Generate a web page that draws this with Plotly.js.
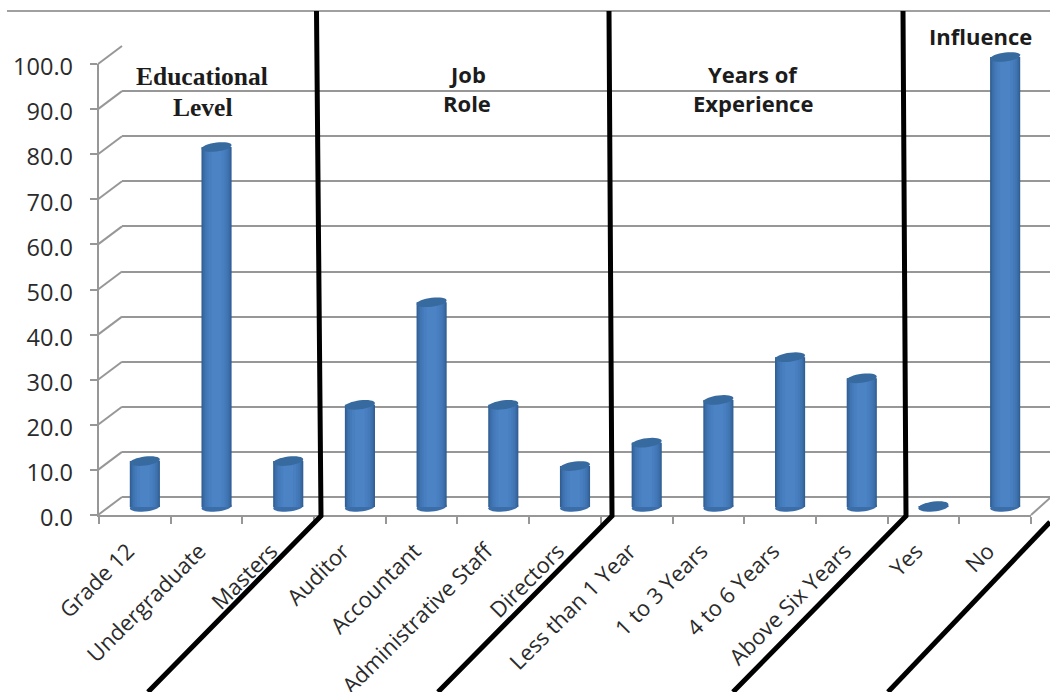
<!DOCTYPE html>
<html>
<head>
<meta charset="utf-8">
<script src="https://cdn.plot.ly/plotly-3.0.1.min.js"></script>
<style>html,body{margin:0;padding:0;background:#fff}#chart{width:1050px;height:692px}</style>
</head>
<body>
<div id="chart"></div>
<script>
const categories = ["Grade 12","Undergraduate","Masters","Auditor","Accountant","Administrative Staff","Directors","Less than 1 Year","1 to 3 Years","4 to 6 Years","Above Six Years","Yes","No"];
const percentages = [10.2,80,10.2,22.7,45.5,22.7,9.1,14.3,23.8,33.3,28.6,0.2,100];
const yTicks = [0,10,20,30,40,50,60,70,80,90,100];
const yTickLabels = ["0.0","10.0","20.0","30.0","40.0","50.0","60.0","70.0","80.0","90.0","100.0"];

const W = 1050, H = 692;
const px = x => x / W, py = y => 1 - y / H;
const GRAY = "#979797";
const layers = [[0.42,"#2f5c92"],[0.40,"#35649b"],[0.37,"#3b6da8"],[0.33,"#4075b2"],[0.28,"#447aba"],[0.22,"#487fc0"],[0.14,"#4c83c5"]];

const carrier = (x,y,xa,ya)=>({type:"scatter",mode:"markers",x:x,y:y,xaxis:xa,yaxis:ya,marker:{opacity:0},hoverinfo:"skip",showlegend:false});
const traces = [];
// invisible carriers for the wall grid, front axes and the label-only axes
traces.push(carrier([0,1],[0,100],"x","y"));
traces.push(carrier(categories,percentages,"x2","y2"));
traces.push(carrier(categories,percentages,"x4","y2"));
traces.push(carrier(categories,percentages,"x2","y4"));
// cylinders: nested bars produce the shaded body
layers.forEach(([w,c]) => traces.push({type:"bar",x:categories,y:percentages,width:w,xaxis:"x3",yaxis:"y3",marker:{color:c,line:{width:0}},hoverinfo:"x+y",showlegend:false}));

function ellipsePath(i, v, ry, tilt){
  const rx = 0.209;
  let d = "";
  for(let k=0;k<32;k++){
    const a = k/32*2*Math.PI, cx = Math.cos(a), sy = Math.sin(a);
    d += (k?"L":"M") + (i+rx*cx).toFixed(4) + "," + (v+ry*sy+tilt*cx).toFixed(3);
  }
  return d+"Z";
}
const shapes = [];
percentages.forEach((v,i)=>{
  shapes.push({type:"path",layer:"below",xref:"x3",yref:"y3",path:ellipsePath(i,0,1.0,0.3),fillcolor:"#3b6da8",line:{width:0}});
  shapes.push({type:"path",layer:"above",xref:"x3",yref:"y3",path:ellipsePath(i,v,1.0,0.4),fillcolor:"#376a9f",line:{width:0}});
});
// depth diagonals between front axis and back wall
yTicks.forEach(t=>{
  const f = 515 - 4.51*t, b = 497 - 4.51*t;
  shapes.push({type:"line",xref:"paper",yref:"paper",x0:px(98),x1:px(122),y0:py(f),y1:py(b),line:{color:GRAY,width:2},layer:"below"});
});
shapes.push({type:"line",xref:"paper",yref:"paper",x0:px(1031),x1:px(1050),y0:py(515),y1:py(498),line:{color:GRAY,width:2}});
shapes.push({type:"line",xref:"paper",yref:"paper",x0:px(7),x1:px(1050),y0:py(11),y1:py(11),line:{color:"#a0a0a0",width:2}});
// heavy section dividers
const dividers = [[[316.5,11],[321,516],[148,692]],[[609,11],[612,516],[438,692]],[[903,11],[906,516],[733,692]],[[1050,522],[888,692]]];
dividers.forEach(p=>{
  const d = p.map((q,i)=>(i?"L":"M")+px(q[0]).toFixed(5)+","+py(q[1]).toFixed(5)).join(" ");
  shapes.push({type:"path",xref:"paper",yref:"paper",path:d,line:{color:"#000",width:5},layer:"above"});
});

const sans = "'Open Sans', sans-serif", serif = "'Liberation Serif', serif";
const note = (t,x,y,fam,size)=>({text:"<b>"+t+"</b>",xref:"paper",yref:"paper",x:px(x),y:py(y),xanchor:"center",yanchor:"middle",showarrow:false,font:{family:fam,size:size,color:"#1c1c1c"}});
const annotations = [
  note("Educational",202,76,serif,25.5),note("Level",202,107,serif,25.5),
  note("Job",467,74,sans,22),note("Role",467,103,sans,22),
  note("Years of",753,74,sans,22),note("Experience",753,103,sans,22),
  note("Influence",980,36,sans,22)
];

const hidden = {showgrid:false,zeroline:false,showticklabels:false,ticks:"",showline:false};
const layout = {
  width:W,height:H,margin:{l:0,r:0,t:0,b:0,pad:0},paper_bgcolor:"#fff",plot_bgcolor:"rgba(0,0,0,0)",
  barmode:"overlay",showlegend:false,
  xaxis:{...hidden,domain:[px(122),1],range:[0,1],anchor:"y"},
  yaxis:{domain:[py(497),py(46)],range:[0,100],anchor:"x",tickvals:yTicks,showgrid:true,gridcolor:GRAY,gridwidth:2,zeroline:true,zerolinecolor:GRAY,zerolinewidth:2,showticklabels:false,ticks:"",showline:false},
  xaxis2:{domain:[px(99),px(1031)],type:"category",categoryorder:"array",categoryarray:categories,range:[-0.5,12.5],anchor:"y2",tickson:"boundaries",ticks:"outside",ticklen:7,tickwidth:2,tickcolor:GRAY,showline:true,linecolor:GRAY,linewidth:2,showgrid:false,zeroline:false,showticklabels:false,tickmode:"array",tickvals:categories,ticktext:categories},
  yaxis2:{domain:[py(515),py(64)],range:[0,100],anchor:"x2",tickmode:"array",tickvals:yTicks,ticks:"outside",ticklen:7,tickwidth:2,tickcolor:GRAY,showline:true,linecolor:GRAY,linewidth:2,showgrid:false,zeroline:false,showticklabels:false},
  xaxis4:{domain:[px(92),px(1024)],type:"category",categoryorder:"array",categoryarray:categories,range:[-0.5,12.5],anchor:"y2",ticks:"",showline:false,showgrid:false,zeroline:false,tickangle:-45,ticklabelstandoff:18,tickfont:{family:sans,size:22,color:"#2b2b2b"},tickmode:"array",tickvals:categories,ticktext:categories},
  yaxis4:{domain:[py(518),py(67)],range:[0,100],anchor:"x2",tickmode:"array",tickvals:yTicks,ticktext:yTickLabels,ticks:"",showline:false,showgrid:false,zeroline:false,ticklabelstandoff:25,tickfont:{family:sans,size:23.5,color:"#2b2b2b"}},
  xaxis3:{...hidden,domain:[px(109),px(1041)],type:"category",categoryorder:"array",categoryarray:categories,range:[-0.5,12.5],anchor:"y3"},
  yaxis3:{...hidden,domain:[py(529.5),py(34.5)],range:[-5,105],anchor:"x3"},
  shapes:shapes,annotations:annotations
};
Plotly.newPlot("chart",traces,layout,{displayModeBar:false,staticPlot:true});
</script>
</body>
</html>
